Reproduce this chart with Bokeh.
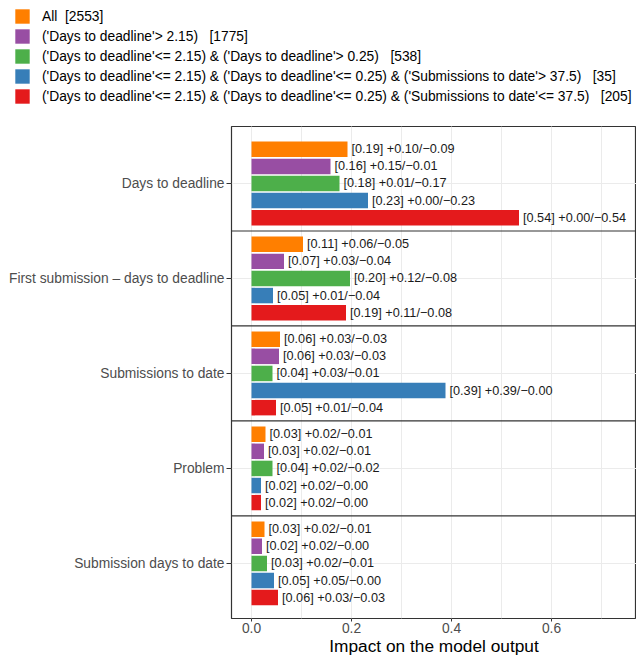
from bokeh.plotting import figure
from bokeh.models import (ColumnDataSource, FixedTicker, SingleIntervalTicker,
                          PrintfTickFormatter, Legend, LegendItem, Range1d, Span)
from bokeh.embed import file_html
from bokeh.resources import INLINE
from bokeh.core.properties import value

# ---------------- data ----------------
features = ["Days to deadline", "First submission \u2013 days to deadline",
            "Submissions to date", "Problem", "Submission days to date"]

series_labels = [
    "All  [2553]",
    "('Days to deadline'> 2.15)   [1775]",
    "('Days to deadline'<= 2.15) & ('Days to deadline'> 0.25)   [538]",
    "('Days to deadline'<= 2.15) & ('Days to deadline'<= 0.25) & ('Submissions to date'> 37.5)   [35]",
    "('Days to deadline'<= 2.15) & ('Days to deadline'<= 0.25) & ('Submissions to date'<= 37.5)   [205]",
]
colors = ["#FF7F00", "#984EA3", "#4DAF4A", "#377EB8", "#E41A1C"]

# bar lengths (impact) per series, in feature order
impact = [
    [0.192, 0.103, 0.057, 0.028, 0.026],
    [0.158, 0.065, 0.055, 0.025, 0.021],
    [0.176, 0.197, 0.042, 0.042, 0.031],
    [0.233, 0.043, 0.388, 0.019, 0.045],
    [0.535, 0.189, 0.049, 0.019, 0.053],
]
# annotation values: [mean] +plus/-minus
label_mean = [
    [0.19, 0.11, 0.06, 0.03, 0.03],
    [0.16, 0.07, 0.06, 0.03, 0.02],
    [0.18, 0.20, 0.04, 0.04, 0.03],
    [0.23, 0.05, 0.39, 0.02, 0.05],
    [0.54, 0.19, 0.05, 0.02, 0.06],
]
label_plus = [
    [0.10, 0.06, 0.03, 0.02, 0.02],
    [0.15, 0.03, 0.03, 0.02, 0.02],
    [0.01, 0.12, 0.03, 0.02, 0.02],
    [0.00, 0.01, 0.39, 0.02, 0.05],
    [0.00, 0.11, 0.01, 0.02, 0.03],
]
label_minus = [
    [0.09, 0.05, 0.03, 0.01, 0.01],
    [0.01, 0.04, 0.03, 0.01, 0.00],
    [0.17, 0.08, 0.01, 0.02, 0.01],
    [0.23, 0.04, 0.00, 0.00, 0.00],
    [0.54, 0.08, 0.04, 0.00, 0.03],
]

# ---------------- figure ----------------
FONT = "Liberation Sans"
nf = len(features)
ns = len(series_labels)
step = 0.18
bar_h = 0.163
LEG_H = 110

p = figure(width=636, height=658 - LEG_H, output_backend="svg", toolbar_location=None,
           x_range=Range1d(-0.04, 0.77), y_range=Range1d(-0.58, nf - 1 + 0.6),
           min_border_left=231, min_border_right=0,
           min_border_top=126 - LEG_H, min_border_bottom=0)
p.background_fill_color = "white"
p.border_fill_color = "white"
p.outline_line_color = "#333333"
p.outline_line_width = 1.2

p.xgrid.grid_line_color = "#ebebeb"
p.xgrid.minor_grid_line_color = "#ebebeb"
p.ygrid.grid_line_color = "#ebebeb"

# legend figure (separate root above the chart)
lf = figure(width=636, height=LEG_H, output_backend="svg", toolbar_location=None,
            x_range=Range1d(0, 1), y_range=Range1d(50, 51),
            min_border_left=13, min_border_right=0, min_border_top=7, min_border_bottom=0)
lf.axis.visible = False
lf.grid.visible = False
lf.outline_line_color = None
lf.background_fill_color = "white"
lf.border_fill_color = "white"

items = []
for j in range(ns):
    ys = [(nf - 1 - i) + ((ns - 1) / 2 - j) * step for i in range(nf)]
    labels = ["[%.2f] +%.2f/\u2212%.2f" % (label_mean[j][i], label_plus[j][i], label_minus[j][i])
              for i in range(nf)]
    src = ColumnDataSource(dict(y=ys, right=impact[j], label=labels))
    p.hbar(y="y", left=0, right="right", height=bar_h, fill_color=colors[j],
           line_color=None, source=src)
    p.text(x="right", y="y", text="label", source=src, x_offset=4,
           text_baseline="middle", text_align="left", text_color="#1a1a1a",
           text_font=value(FONT), text_font_size="12.7px")
    # same series drawn in the legend figure (outside its visible range) for the key
    r = lf.hbar(y="y", left=0, right="right", height=bar_h, fill_color=colors[j],
                line_color=None, source=src)
    items.append(LegendItem(label=series_labels[j], renderers=[r]))

for k in range(nf - 1):
    p.add_layout(Span(location=k + 0.5, dimension="width",
                      line_color="#333333", line_width=1.2))

# y axis with feature names
p.yaxis.ticker = FixedTicker(ticks=list(range(nf)))
p.yaxis.major_label_overrides = {nf - 1 - i: f for i, f in enumerate(features)}
p.yaxis.axis_line_color = None
p.yaxis.major_tick_out = 5
p.yaxis.major_tick_in = 0
p.yaxis.major_tick_line_color = "#333333"
p.yaxis.minor_tick_line_color = None
p.yaxis.major_label_standoff = 2
p.yaxis.major_label_text_font = FONT
p.yaxis.major_label_text_font_size = "13.8px"
p.yaxis.major_label_text_color = "#4d4d4d"

# x axis
p.xaxis.ticker = SingleIntervalTicker(interval=0.2, num_minor_ticks=2)
p.xaxis.formatter = PrintfTickFormatter(format="%.1f")
p.xaxis.axis_line_color = None
p.xaxis.major_tick_out = 3
p.xaxis.major_tick_in = 0
p.xaxis.major_tick_line_color = "#333333"
p.xaxis.minor_tick_line_color = None
p.xaxis.major_label_standoff = 0
p.xaxis.major_label_text_font = FONT
p.xaxis.major_label_text_font_size = "13.8px"
p.xaxis.major_label_text_color = "#4d4d4d"
p.xaxis.axis_label = "Impact on the model output"
p.xaxis.axis_label_text_font = FONT
p.xaxis.axis_label_text_font_size = "17.3px"
p.xaxis.axis_label_text_font_style = "normal"
p.xaxis.axis_label_text_color = "black"
p.xaxis.axis_label_standoff = 0

legend = Legend(items=items, location="top_left",
                margin=0, padding=0, spacing=2,
                glyph_width=18, glyph_height=18, label_height=18, label_standoff=11,
                label_text_font=FONT, label_text_font_size="13.8px", label_text_color="black",
                border_line_color=None, background_fill_alpha=0)
lf.add_layout(legend)

open("out.html", "w").write(file_html([lf, p], INLINE))
